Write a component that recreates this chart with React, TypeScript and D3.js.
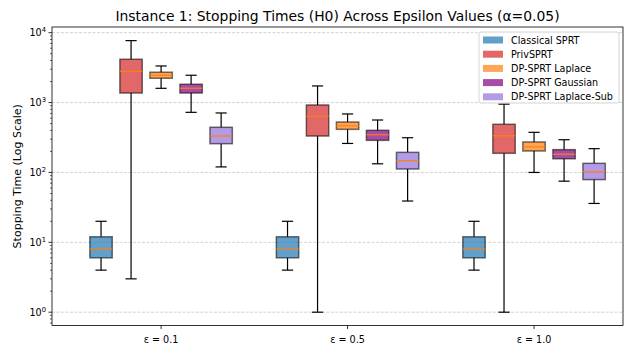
import React, { useEffect, useRef } from 'react';
import * as d3 from 'd3';

// box stats per epsilon: [whisker low, q1, median, q3, whisker high]
const methods = ['Classical SPRT', 'PrivSPRT', 'DP-SPRT Laplace', 'DP-SPRT Gaussian', 'DP-SPRT Laplace-Sub'];
const epsilons = ['ε = 0.1', 'ε = 0.5', 'ε = 1.0'];
const classicalStats = [[4, 6, 8, 12, 20], [4, 6, 8, 12, 20], [4, 6, 8, 12, 20]];
const privSprtStats = [[3, 1370, 2800, 4170, 7700], [1, 332, 637, 924, 1730], [1, 188, 336, 489, 950]];
const laplaceStats = [[1600, 2230, 2460, 2720, 3340], [260, 414, 467, 527, 687], [100, 203, 233, 273, 375]];
const gaussianStats = [[725, 1370, 1600, 1830, 2460], [133, 288, 347, 401, 563], [75, 157, 182, 212, 294]];
const laplaceSubStats = [[120, 258, 332, 443, 710], [39, 112, 147, 194, 314], [36, 79, 102, 135, 219]];
const colors = ['#1f77b4', '#d62728', '#ff7f0e', '#800080', '#9370db'];
const yTicks = [1, 10, 100, 1000, 10000];

const W = 634;
const H = 353;
const FONT = 'DejaVu Sans, sans-serif';

export default function App() {
  const ref = useRef<SVGSVGElement | null>(null);

  useEffect(() => {
    const svg = d3.select(ref.current);
    svg.selectAll('*').remove();

    const left = 52, right = 623, top = 27, bottom = 325.5;
    const x = d3.scaleLinear().domain([-0.585, 2.477]).range([left, right]);
    const y = d3.scaleLog().domain([0.645, 12067]).range([bottom, top]);
    const allStats = [classicalStats, privSprtStats, laplaceStats, gaussianStats, laplaceSubStats];
    const spacing = 0.161;
    const boxW = x(0.12) - x(0);

    // grid
    svg.append('g')
      .selectAll('line')
      .data(yTicks)
      .join('line')
      .attr('x1', left).attr('x2', right)
      .attr('y1', d => y(d)).attr('y2', d => y(d))
      .attr('stroke', '#b0b0b0')
      .attr('stroke-opacity', 0.7)
      .attr('stroke-width', 0.8)
      .attr('stroke-dasharray', '3,1.5');

    // boxes
    allStats.forEach((stats, m) => {
      const g = svg.append('g');
      stats.forEach((s, e) => {
        const cx = x(e + (m - 2) * spacing);
        const [lo, q1, med, q3, hi] = s;
        // whiskers
        g.append('line').attr('x1', cx).attr('x2', cx).attr('y1', y(q3)).attr('y2', y(hi))
          .attr('stroke', '#000').attr('stroke-width', 1.2);
        g.append('line').attr('x1', cx).attr('x2', cx).attr('y1', y(q1)).attr('y2', y(lo))
          .attr('stroke', '#000').attr('stroke-width', 1.2);
        [lo, hi].forEach(v => {
          g.append('line').attr('x1', cx - boxW / 4).attr('x2', cx + boxW / 4)
            .attr('y1', y(v)).attr('y2', y(v))
            .attr('stroke', '#000').attr('stroke-width', 1.2);
        });
        g.append('rect')
          .attr('x', cx - boxW / 2).attr('y', y(q3))
          .attr('width', boxW).attr('height', y(q1) - y(q3))
          .attr('fill', colors[m]).attr('fill-opacity', 0.7)
          .attr('stroke', '#000').attr('stroke-opacity', 0.55).attr('stroke-width', 1.5);
        g.append('line').attr('x1', cx - boxW / 2).attr('x2', cx + boxW / 2)
          .attr('y1', y(med)).attr('y2', y(med))
          .attr('stroke', '#ff7f0e').attr('stroke-opacity', 0.8).attr('stroke-width', 1.5);
      });
    });

    // frame
    svg.append('rect')
      .attr('x', left).attr('y', top).attr('width', right - left).attr('height', bottom - top)
      .attr('fill', 'none').attr('stroke', '#000').attr('stroke-width', 0.8);

    // y axis
    const ya = svg.append('g').attr('font-family', FONT).attr('font-size', 9.6);
    const minor: number[] = [];
    for (let p = -1; p <= 4; p++) {
      for (let k = 2; k <= 9; k++) {
        const v = k * Math.pow(10, p);
        if (v >= 0.645 && v <= 12067) minor.push(v);
      }
    }
    ya.selectAll('line.minor').data(minor).join('line').attr('class', 'minor')
      .attr('x1', left - 2).attr('x2', left).attr('y1', d => y(d)).attr('y2', d => y(d))
      .attr('stroke', '#000').attr('stroke-width', 0.6);
    ya.selectAll('line.major').data(yTicks).join('line').attr('class', 'major')
      .attr('x1', left - 3.5).attr('x2', left).attr('y1', d => y(d)).attr('y2', d => y(d))
      .attr('stroke', '#000').attr('stroke-width', 0.8);
    const lbl = ya.selectAll('text').data(yTicks).join('text')
      .attr('x', left - 6).attr('y', d => y(d) + 3.5)
      .attr('text-anchor', 'end');
    lbl.append('tspan').text('10');
    lbl.append('tspan').attr('dy', -4).attr('font-size', 6.8).text(d => String(Math.round(Math.log10(d))));

    // x axis
    const xa = svg.append('g').attr('font-family', FONT).attr('font-size', 9.6);
    xa.selectAll('line').data(epsilons).join('line')
      .attr('x1', (d, i) => x(i)).attr('x2', (d, i) => x(i))
      .attr('y1', bottom).attr('y2', bottom + 3.5)
      .attr('stroke', '#000').attr('stroke-width', 0.8);
    xa.selectAll('text').data(epsilons).join('text')
      .attr('x', (d, i) => x(i)).attr('y', bottom + 17)
      .attr('text-anchor', 'middle')
      .text(d => d);

    // labels
    svg.append('text')
      .attr('x', (left + right) / 2).attr('y', 21)
      .attr('text-anchor', 'middle')
      .attr('font-family', FONT).attr('font-size', 13.9)
      .text('Instance 1: Stopping Times (H0) Across Epsilon Values (α=0.05)');
    svg.append('text')
      .attr('transform', `translate(21, ${(top + bottom) / 2}) rotate(-90)`)
      .attr('text-anchor', 'middle')
      .attr('font-family', FONT).attr('font-size', 11)
      .text('Stopping Time (Log Scale)');

    // legend
    const lg = svg.append('g').attr('font-family', FONT).attr('font-size', 9.6);
    lg.append('rect')
      .attr('x', 479).attr('y', 32).attr('width', 140).attr('height', 71).attr('rx', 2)
      .attr('fill', '#fff').attr('fill-opacity', 0.8)
      .attr('stroke', '#ccc').attr('stroke-width', 0.8);
    methods.forEach((name, i) => {
      const cy = 40 + i * 14.2;
      lg.append('rect')
        .attr('x', 483).attr('y', cy - 3.5).attr('width', 20).attr('height', 7)
        .attr('fill', colors[i]).attr('fill-opacity', 0.7);
      lg.append('text').attr('x', 511).attr('y', cy + 3.5).text(name);
    });
  }, []);

  return (
    <div style={{ position: 'fixed', left: 0, top: 0 }}>
      <svg ref={ref} width={W} height={H} style={{ display: 'block', background: '#fff' }} />
    </div>
  );
}
